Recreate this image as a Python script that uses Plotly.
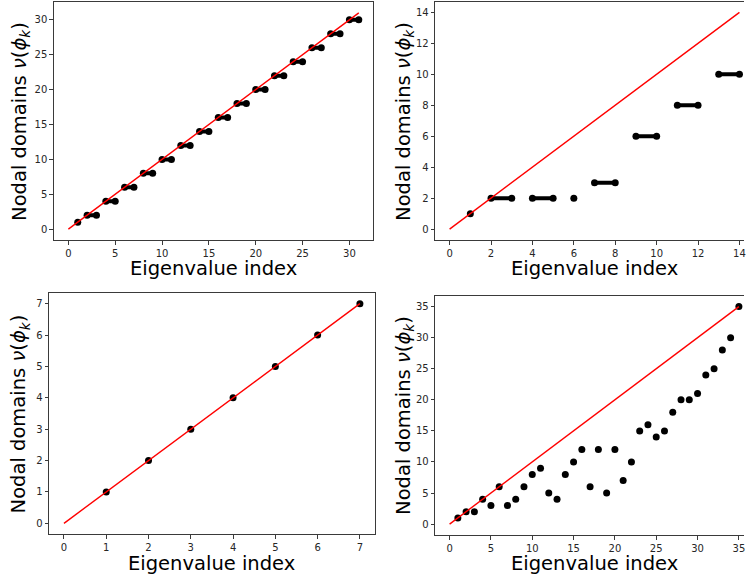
import plotly.graph_objects as go

W, H = 746, 577

# ---------------- data ----------------
p1_groups = [[1], [2, 3], [4, 5], [6, 7], [8, 9], [10, 11], [12, 13], [14, 15],
             [16, 17], [18, 19], [20, 21], [22, 23], [24, 25], [26, 27], [28, 29], [30, 31]]
p1_values = [1, 2, 4, 6, 8, 10, 12, 14, 16, 18, 20, 22, 24, 26, 28, 30]
p1_line_end = 31

p2_groups = [[1], [2, 3], [4, 5], [6], [7, 8], [9, 10], [11, 12], [13, 14]]
p2_values = [1, 2, 2, 2, 3, 6, 8, 10]
p2_line_end = 14

p3_x = [1, 2, 3, 4, 5, 6, 7]
p3_y = [1, 2, 3, 4, 5, 6, 7]
p3_line_end = 7

p4_x = list(range(1, 36))
p4_y = [1, 2, 2, 4, 3, 6, 3, 4, 6, 8, 9, 5, 4, 8, 10, 12, 6, 12, 5, 12,
        7, 10, 15, 16, 14, 15, 18, 20, 20, 21, 24, 25, 28, 30, 35]
p4_line_end = 35

x_title = "Eigenvalue index"
y_title = "Nodal domains <i>ν</i>(<i>ϕ</i><sub><i>k</i></sub>)"

# ---------------- layout geometry (pixels) ----------------
# (left, right, top, bottom)
boxes = {
    1: (54.0, 374.3, 2.0, 240.0),
    2: (436.3, 746.0, 1.5, 240.0),
    3: (49.3, 375.7, 292.7, 534.3),
    4: (436.3, 746.0, 295.7, 535.0),
}
xranges = {1: [-1.55, 32.55], 2: [-0.7, 14.22], 3: [-0.35, 7.35], 4: [-1.75, 35.62]}
yranges = {1: [-1.55, 32.55], 2: [-0.7, 14.7], 3: [-0.35, 7.35], 4: [-1.75, 36.75]}
dticks = {1: 5, 2: 2, 3: 1, 4: 5}
right_border = {1: True, 2: False, 3: True, 4: False}


def groups_to_xy(groups, values):
    xs, ys = [], []
    for g, v in zip(groups, values):
        xs.extend(g + [None])
        ys.extend([v] * len(g) + [None])
    return xs, ys


fig = go.Figure()

black_data = {
    1: groups_to_xy(p1_groups, p1_values),
    2: groups_to_xy(p2_groups, p2_values),
    3: (p3_x, p3_y),
    4: (p4_x, p4_y),
}
line_ends = {1: p1_line_end, 2: p2_line_end, 3: p3_line_end, 4: p4_line_end}

for i in range(1, 5):
    xa = "x" if i == 1 else f"x{i}"
    ya = "y" if i == 1 else f"y{i}"
    bx, by = black_data[i]
    mode = "lines+markers" if i in (1, 2) else "markers"
    fig.add_trace(go.Scatter(
        x=bx, y=by, mode=mode, xaxis=xa, yaxis=ya,
        line=dict(color="black", width=4),
        marker=dict(color="black", size=7),
        showlegend=False, hoverinfo="skip", cliponaxis=False))
    e = line_ends[i]
    fig.add_trace(go.Scatter(
        x=[0, e], y=[0, e], mode="lines", xaxis=xa, yaxis=ya,
        line=dict(color="red", width=1.4),
        showlegend=False, hoverinfo="skip"))

tickfont = dict(family="DejaVu Sans", size=10, color="#262626")
axis_common = dict(showgrid=False, zeroline=False, showline=True,
                   linecolor="#3a3a3a", linewidth=1, ticks="outside",
                   ticklen=3.5, tickwidth=1, tickcolor="#3a3a3a",
                   tickfont=tickfont, tick0=0, ticklabeloverflow="allow")

layout = dict(width=W, height=H, margin=dict(l=0, r=0, t=0, b=0),
              paper_bgcolor="white", plot_bgcolor="white")

annotations = []
for i in range(1, 5):
    l, r, t, b = boxes[i]
    xk = "xaxis" if i == 1 else f"xaxis{i}"
    yk = "yaxis" if i == 1 else f"yaxis{i}"
    ya = "y" if i == 1 else f"y{i}"
    xa = "x" if i == 1 else f"x{i}"
    layout[xk] = dict(axis_common, domain=[l / W, r / W], range=xranges[i],
                      dtick=dticks[i], anchor=ya, mirror=True)
    layout[yk] = dict(axis_common, domain=[(H - b) / H, (H - t) / H],
                      range=yranges[i], dtick=dticks[i], anchor=xa,
                      mirror=right_border[i])

# axis titles as annotations
xt = {1: (214.2, 268.3), 2: (596.5, 268.3), 3: (212.5, 563.0), 4: (596.5, 563.0)}
yt = {1: (20.0, 121.0), 2: (405.0, 121.0), 3: (20.0, 413.5), 4: (405.0, 415.0)}
for i in range(1, 5):
    x, y = xt[i]
    annotations.append(dict(text=x_title, x=x / W, y=1 - y / H, xref="paper", yref="paper",
                            xanchor="center", yanchor="middle", showarrow=False,
                            font=dict(family="DejaVu Sans", size=19.5, color="black")))
    x, y = yt[i]
    annotations.append(dict(text=y_title, x=x / W, y=1 - y / H, xref="paper", yref="paper",
                            xanchor="center", yanchor="middle", showarrow=False, textangle=-90,
                            font=dict(family="DejaVu Sans", size=19.5, color="black")))
layout["annotations"] = annotations

fig.update_layout(**layout)
fig.write_html("out.html")
